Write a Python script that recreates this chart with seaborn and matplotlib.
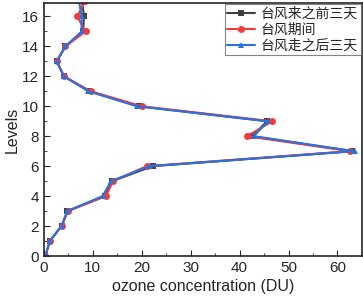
import numpy as np
import pandas as pd
import seaborn as sns
import matplotlib.pyplot as plt
from matplotlib.ticker import MultipleLocator

# datos
levels = list(range(18))
before = [0.3, 1.2, 3.6, 4.8, 12.4, 14.0, 22.2, 63.0, 42.6, 45.6, 19.5, 9.3, 4.1, 2.6, 4.4, 8.0, 8.2, 7.8]
during = [0.3, 1.2, 3.6, 4.9, 12.7, 14.1, 21.0, 62.6, 41.5, 46.7, 20.0, 9.6, 4.1, 2.6, 4.4, 8.5, 6.8, 8.4]
after = [0.3, 1.2, 3.6, 4.8, 12.0, 13.7, 21.6, 63.5, 42.9, 45.8, 19.0, 9.1, 4.1, 2.6, 4.4, 7.7, 7.7, 7.2]
names = ['台风来之前三天', '台风期间', '台风走之后三天']

df = pd.concat([
    pd.DataFrame({'Levels': levels, 'ozone': v, 'serie': n})
    for v, n in zip([before, during, after], names)
])

sns.set_style('ticks')
plt.rcParams['font.family'] = ['Liberation Sans', 'Noto Sans CJK SC', 'DejaVu Sans']

fig = plt.figure(figsize=(3.63, 2.97), dpi=100)
ax = fig.add_axes([0.121, 0.138, 0.876, 0.852])

colors = ['#404040', '#f23b3b', '#2a72e0']
markers = ['s', 'o', '^']
for n, c, m in zip(names, colors, markers):
    d = df[df['serie'] == n]
    sns.lineplot(data=d, x='ozone', y='Levels', sort=False, estimator=None,
                 color=c, marker=m, markersize=5, markeredgewidth=0,
                 linewidth=1.5, label=n, ax=ax)

ax.set_xlim(0, 65)
ax.set_ylim(0, 16.9)
ax.xaxis.set_major_locator(MultipleLocator(10))
ax.xaxis.set_minor_locator(MultipleLocator(5))
ax.yaxis.set_major_locator(MultipleLocator(2))
ax.yaxis.set_minor_locator(MultipleLocator(1))
ax.tick_params(which='both', direction='in', labelsize=11)
ax.tick_params(which='major', length=4)
ax.tick_params(which='minor', length=2)
for s in ax.spines.values():
    s.set_visible(True)
    s.set_linewidth(1.2)
ax.set_xlabel('ozone concentration (DU)', fontsize=11.5, labelpad=3)
ax.set_ylabel('Levels', fontsize=11.5, labelpad=2)

leg = ax.legend(loc='upper right', frameon=True, fancybox=False,
                borderpad=0.2, labelspacing=0.12, handlelength=2.0,
                handletextpad=0.4, borderaxespad=0.1,
                prop={'family': ['Noto Sans CJK SC'], 'size': 10})
leg.get_frame().set_edgecolor('#666666')
leg.get_frame().set_linewidth(0.8)

fig.savefig('out.png', dpi=100)
